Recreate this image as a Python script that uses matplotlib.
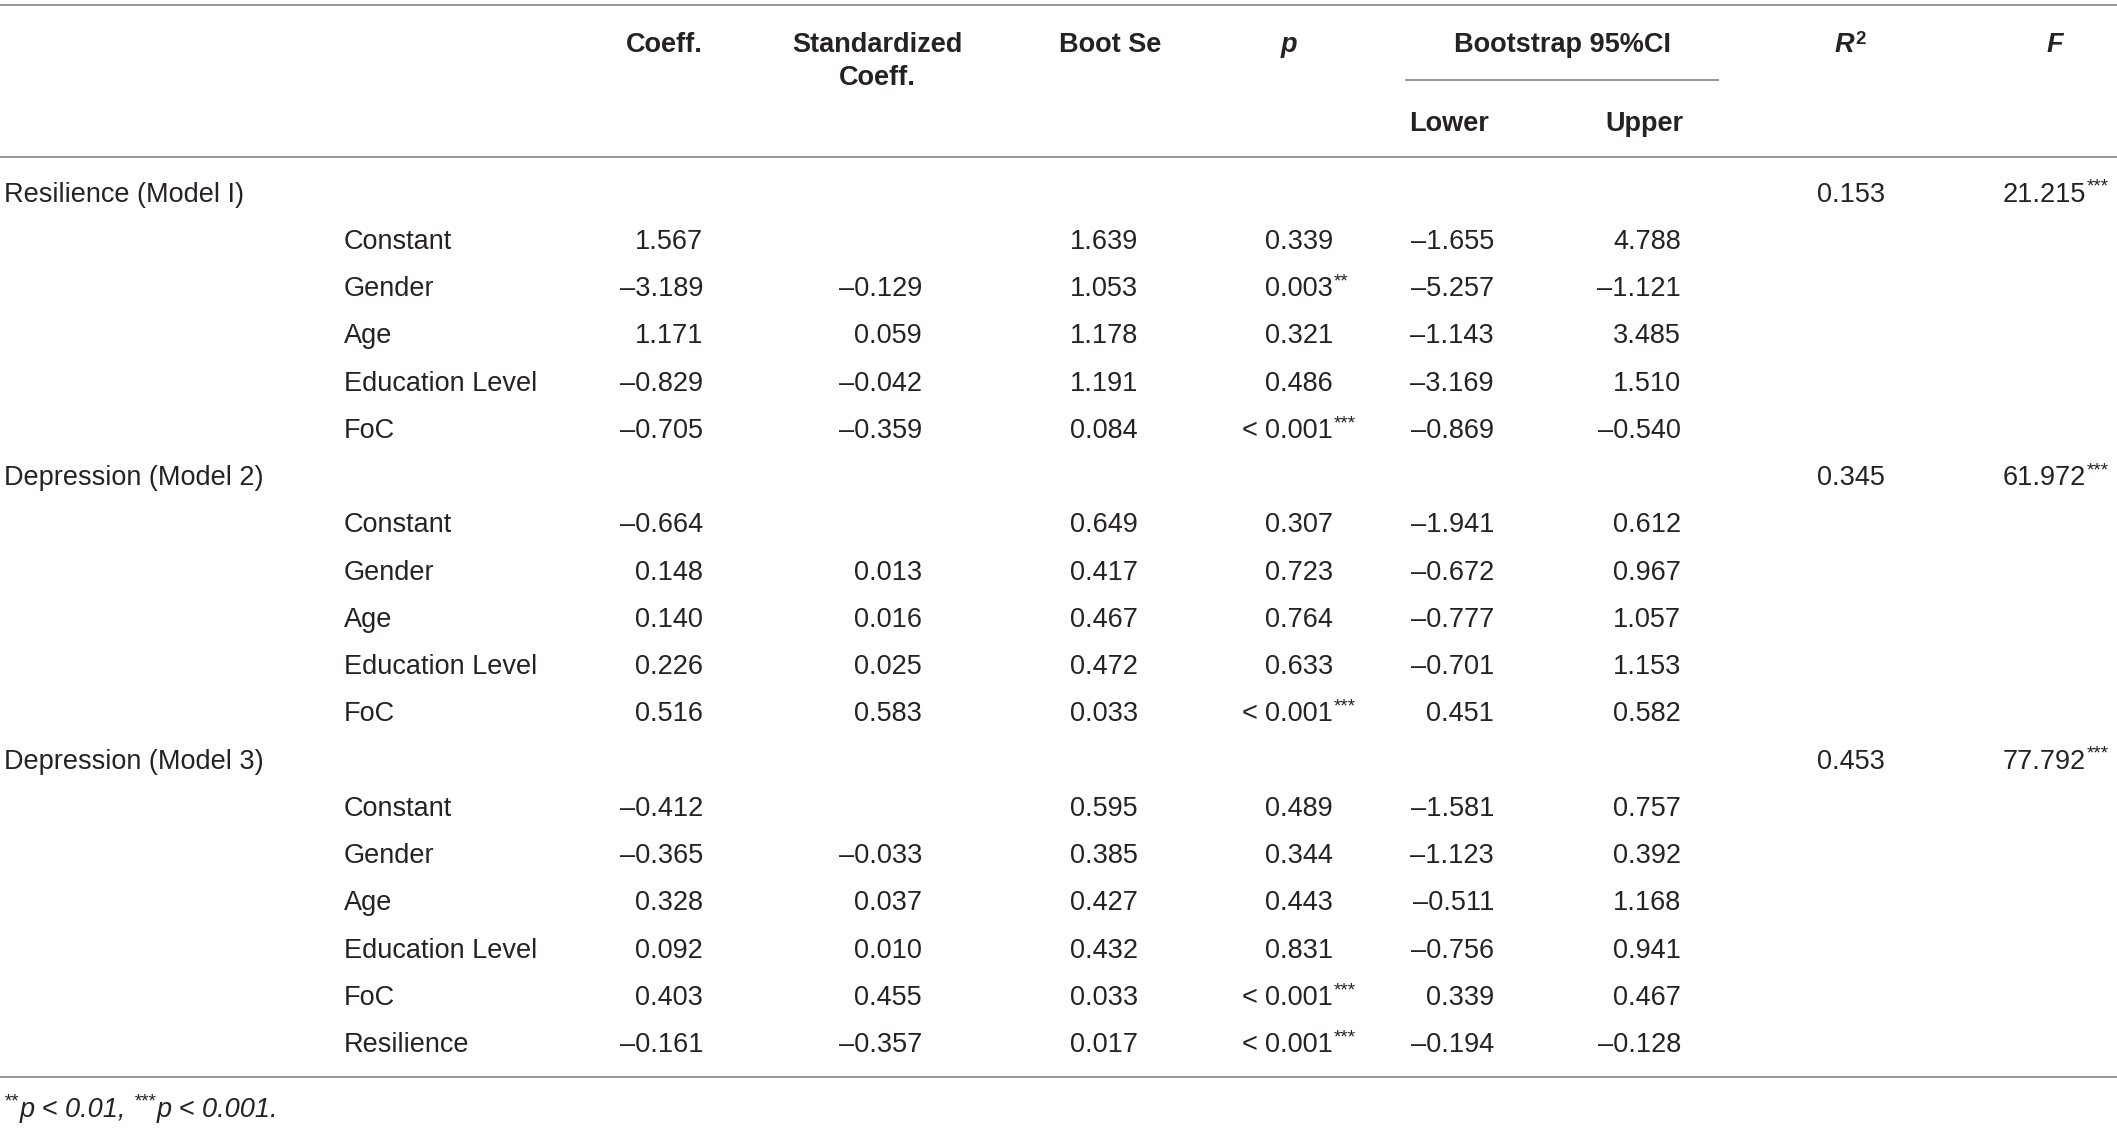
import matplotlib
matplotlib.use("Agg")
import matplotlib.pyplot as plt

# ---------------- data ----------------
groups = ["Resilience (Model I)", "Depression (Model 2)", "Depression (Model 3)"]
r2_values = ["0.153", "0.345", "0.453"]
f_values = ["21.215", "61.972", "77.792"]
f_stars = ["***", "***", "***"]

predictors = [
    ["Constant", "Gender", "Age", "Education Level", "FoC"],
    ["Constant", "Gender", "Age", "Education Level", "FoC"],
    ["Constant", "Gender", "Age", "Education Level", "FoC", "Resilience"],
]
coeff = [
    ["1.567", "–3.189", "1.171", "–0.829", "–0.705"],
    ["–0.664", "0.148", "0.140", "0.226", "0.516"],
    ["–0.412", "–0.365", "0.328", "0.092", "0.403", "–0.161"],
]
std_coeff = [
    ["", "–0.129", "0.059", "–0.042", "–0.359"],
    ["", "0.013", "0.016", "0.025", "0.583"],
    ["", "–0.033", "0.037", "0.010", "0.455", "–0.357"],
]
boot_se = [
    ["1.639", "1.053", "1.178", "1.191", "0.084"],
    ["0.649", "0.417", "0.467", "0.472", "0.033"],
    ["0.595", "0.385", "0.427", "0.432", "0.033", "0.017"],
]
p_values = [
    ["0.339", "0.003", "0.321", "0.486", "0.001"],
    ["0.307", "0.723", "0.764", "0.633", "0.001"],
    ["0.489", "0.344", "0.443", "0.831", "0.001", "0.001"],
]
p_prefix = [
    ["", "", "", "", "< "],
    ["", "", "", "", "< "],
    ["", "", "", "", "< ", "< "],
]
p_stars = [
    ["", "**", "", "", "***"],
    ["", "", "", "", "***"],
    ["", "", "", "", "***", "***"],
]
ci_lower = [
    ["–1.655", "–5.257", "–1.143", "–3.169", "–0.869"],
    ["–1.941", "–0.672", "–0.777", "–0.701", "0.451"],
    ["–1.581", "–1.123", "–0.511", "–0.756", "0.339", "–0.194"],
]
ci_upper = [
    ["4.788", "–1.121", "3.485", "1.510", "–0.540"],
    ["0.612", "0.967", "1.057", "1.153", "0.582"],
    ["0.757", "0.392", "1.168", "0.941", "0.467", "–0.128"],
]

# ---------------- layout ----------------
W, H = 2117, 1128
FS = 19.5
SUPF = 0.7
TXT = "#262223"
LINEC = "#8f8f8f"
FAM = ["Liberation Sans", "DejaVu Sans"]

fig = plt.figure(figsize=(W / 100, H / 100), dpi=100)
ax = fig.add_axes([0, 0, 1, 1])
ax.set_xlim(0, W)
ax.set_ylim(H, 0)
ax.axis("off")
renderer = fig.canvas.get_renderer()

EM = FS * 100 / 72.0
CAP = 0.716 * EM


def tw(s, **kw):
    if not s:
        return 0.0
    t = ax.text(0, 0, s, family=FAM, **kw)
    w = t.get_window_extent(renderer).width
    t.remove()
    return w


def put(x, yc, s, ha="left", size=FS, weight="normal", style="normal"):
    ax.text(x, yc + CAP / 2, s, ha=ha, va="baseline", fontsize=size,
            family=FAM, fontweight=weight, fontstyle=style, color=TXT)


def sup(x, yc, s, weight="normal", style="normal", ha="left", raise_=0.36):
    ax.text(x, yc + CAP / 2 - raise_ * EM, s, ha=ha, va="baseline",
            fontsize=FS * SUPF, family=FAM, fontweight=weight,
            fontstyle=style, color=TXT)


# column positions
X_GROUP = 4
X_PRED = 344
X_COEFF = 703
X_STD = 922
X_SE = 1138
X_P = 1333
X_LOW = 1494
X_UP = 1681
X_R2 = 1885
X_F = 2109

# horizontal rules
for y in (5, 157, 1077):
    ax.plot([0, W], [y, y], color=LINEC, lw=1.3, solid_capstyle="butt")
ax.plot([1405, 1719], [80, 80], color=LINEC, lw=1.3, solid_capstyle="butt")

# headers
HY1, HY2, HY3 = 42, 75, 121
put(664, HY1, "Coeff.", ha="center", weight="bold")
put(877, HY1, "Standardized", ha="center", weight="bold")
put(877, HY2, "Coeff.", ha="center", weight="bold")
put(1110, HY1, "Boot Se", ha="center", weight="bold")
put(1289, HY1, "p", ha="center", weight="bold", style="italic")
put(1563, HY1, "Bootstrap 95%CI", ha="center", weight="bold")
put(1449, HY3, "Lower", ha="center", weight="bold")
put(1644, HY3, "Upper", ha="center", weight="bold")
wR = tw("R", fontsize=FS, fontweight="bold", fontstyle="italic")
w2 = tw("2", fontsize=FS * SUPF, fontweight="bold")
xr = 1850 - (wR + w2) / 2
put(xr, HY1, "R", weight="bold", style="italic")
sup(xr + wR + 1, HY1, "2", weight="bold", raise_=0.3)
put(2055, HY1, "F", ha="center", weight="bold", style="italic")

# body
Y0 = 192
DY = 47.25
row = 0
for g in range(len(groups)):
    yc = Y0 + row * DY
    put(X_GROUP, yc, groups[g])
    put(X_R2, yc, r2_values[g], ha="right")
    ws = tw(f_stars[g], fontsize=FS * SUPF)
    put(X_F - ws - 1, yc, f_values[g], ha="right")
    sup(X_F, yc, f_stars[g], ha="right")
    row += 1
    for i in range(len(predictors[g])):
        yc = Y0 + row * DY
        put(X_PRED, yc, predictors[g][i])
        put(X_COEFF, yc, coeff[g][i], ha="right")
        if std_coeff[g][i]:
            put(X_STD, yc, std_coeff[g][i], ha="right")
        put(X_SE, yc, boot_se[g][i], ha="right")
        put(X_P, yc, p_values[g][i], ha="right")
        if p_prefix[g][i]:
            wn = tw(p_values[g][i], fontsize=FS)
            put(X_P - wn, yc, p_prefix[g][i], ha="right")
        if p_stars[g][i]:
            sup(X_P + 1, yc, p_stars[g][i])
        put(X_LOW, yc, ci_lower[g][i], ha="right")
        put(X_UP, yc, ci_upper[g][i], ha="right")
        row += 1

# footnote
FY = 1107
x = X_GROUP
sup(x, FY, "**", style="italic")
x += tw("**", fontsize=FS * SUPF, fontstyle="italic") + 1
s1 = "p < 0.01, "
put(x, FY, s1, style="italic")
x += tw(s1, fontsize=FS, fontstyle="italic")
sup(x, FY, "***", style="italic")
x += tw("***", fontsize=FS * SUPF, fontstyle="italic") + 1
put(x, FY, "p < 0.001.", style="italic")

fig.savefig("out.png", dpi=100, facecolor="white")
